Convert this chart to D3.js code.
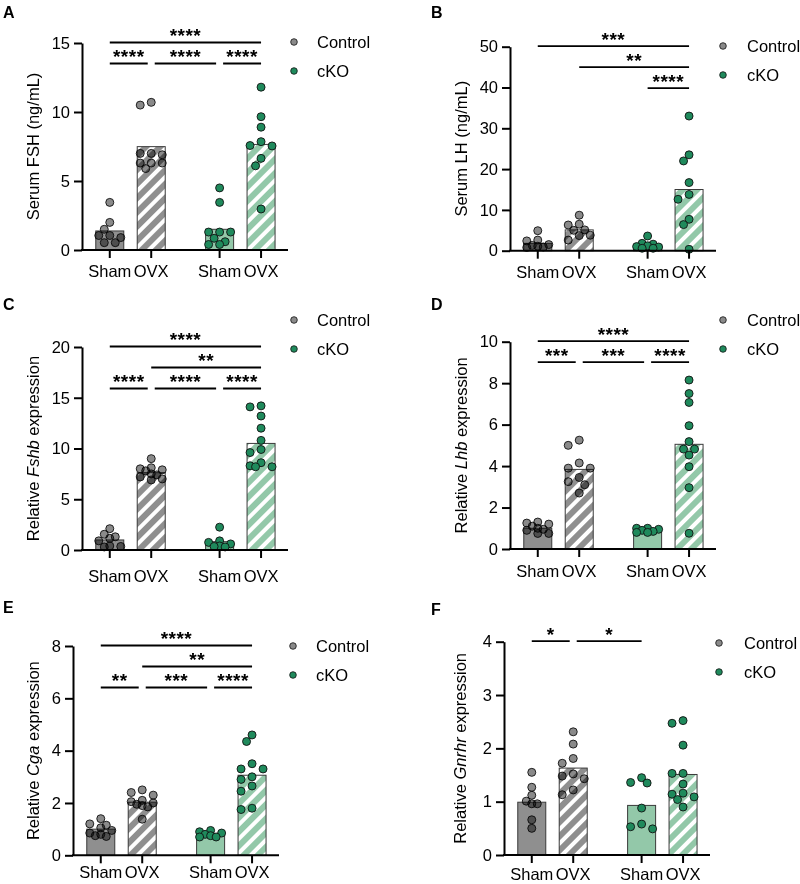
<!DOCTYPE html>
<html><head><meta charset="utf-8">
<script src="https://cdn.jsdelivr.net/npm/d3@7"></script>
<style>
body{margin:0;background:#fff}
svg{display:block}
text{font-family:"Liberation Sans",Arial,Helvetica,sans-serif;fill:#000}
</style>
</head><body>
<svg id="chart" width="800" height="884"></svg>
<script>
// ---------- DATA ----------
const groupLabels = ["Sham", "OVX", "Sham", "OVX"];
const groupGenotype = ["Control", "Control", "cKO", "cKO"];
const groupTreatment = ["Sham", "OVX", "Sham", "OVX"];
const seriesNames = ["Control", "cKO"];

// Panel A: Serum FSH (ng/mL)
const fshPoints = [
  [3.45, 2.0, 1.5, 1.05, 0.9, 1.05, 0.53, 0.53],
  [10.7, 10.5, 7.0, 7.0, 6.9, 6.3, 6.3, 6.3, 5.9],
  [4.5, 3.45, 1.3, 1.3, 1.3, 0.85, 0.6, 0.4, 0.4],
  [11.8, 9.66, 8.9, 7.85, 7.57, 7.54, 6.64, 6.1, 2.97]
];
const fshMeans = [1.38, 7.49, 1.5, 7.65];
const fshTicks = [0, 5, 10, 15];
const fshSig = [[0, 3, "****", 0], [0, 1, "****", 1], [1, 2, "****", 1], [2, 3, "****", 1]];

// Panel B: Serum LH (ng/mL)
const lhPoints = [
  [4.9, 2.6, 2.4, 1.5, 1.3, 1.1, 0.9, 0.8],
  [8.7, 6.5, 6.3, 5.1, 5.0, 3.8, 3.7, 2.6],
  [3.6, 1.8, 1.6, 1.2, 1.0, 0.9, 0.6, 0.6],
  [33.0, 23.5, 22.0, 16.7, 13.8, 12.6, 7.7, 6.4, 0.35]
];
const lhMeans = [1.8, 5.1, 1.45, 15.0];
const lhTicks = [0, 10, 20, 30, 40, 50];
const lhSig = [[0, 3, "***", 0], [1, 3, "**", 1], [2, 3, "****", 2]];

// Panel C: Relative Fshb expression
const fshbPoints = [
  [2.1, 1.55, 1.3, 1.15, 0.9, 0.4, 0.35, 0.3],
  [9.0, 8.1, 8.0, 7.9, 7.8, 7.5, 7.4, 7.2, 7.0, 6.9],
  [2.25, 0.9, 0.75, 0.6, 0.4, 0.35, 0.3],
  [14.2, 14.1, 13.2, 12.0, 10.8, 9.9, 9.6, 8.6, 8.3, 8.2, 8.2]
];
const fshbMeans = [0.99, 7.62, 0.82, 10.5];
const fshbTicks = [0, 5, 10, 15, 20];
const fshbSig = [[0, 3, "****", 0], [1, 3, "**", 1], [0, 1, "****", 2], [1, 2, "****", 2], [2, 3, "****", 2]];

// Panel D: Relative Lhb expression
const lhbPoints = [
  [1.3, 1.25, 1.2, 1.1, 1.0, 0.95, 0.9, 0.75, 0.75],
  [5.25, 5.0, 4.15, 3.9, 3.9, 3.45, 3.25, 3.1, 2.7],
  [1.0, 1.0, 0.95, 0.9, 0.85, 0.8, 0.8],
  [8.15, 7.5, 7.07, 5.95, 5.18, 4.82, 4.82, 4.53, 3.97, 2.96, 0.76]
];
const lhbMeans = [1.0, 3.84, 0.87, 5.05];
const lhbTicks = [0, 2, 4, 6, 8, 10];
const lhbSig = [[0, 3, "****", 0], [0, 1, "***", 1], [1, 2, "***", 1], [2, 3, "****", 1]];

// Panel E: Relative Cga expression
const cgaPoints = [
  [1.4, 1.2, 1.15, 1.05, 0.95, 0.85, 0.8, 0.75, 0.72],
  [2.5, 2.4, 2.3, 2.1, 2.05, 2.0, 1.95, 1.9, 1.85, 1.38],
  [0.95, 0.9, 0.85, 0.8, 0.75, 0.7, 0.7],
  [4.6, 4.35, 3.5, 3.3, 3.3, 3.0, 2.9, 2.65, 2.45, 1.8, 1.75]
];
const cgaMeans = [1.0, 2.03, 0.8, 3.06];
const cgaTicks = [0, 2, 4, 6, 8];
const cgaSig = [[0, 3, "****", 0], [1, 3, "**", 1], [0, 1, "**", 2], [1, 2, "***", 2], [2, 3, "****", 2]];

// Panel F: Relative Gnrhr expression
const gnrhrPoints = [
  [1.55, 1.27, 1.12, 1.01, 0.96, 0.96, 0.66, 0.5],
  [2.31, 2.08, 1.81, 1.72, 1.52, 1.48, 1.43, 1.22, 1.13],
  [1.45, 1.36, 1.35, 0.88, 0.58, 0.53, 0.49],
  [2.52, 2.47, 2.06, 1.53, 1.53, 1.33, 1.16, 1.14, 1.09, 1.04, 0.9]
];
const gnrhrMeans = [0.99, 1.63, 0.93, 1.51];
const gnrhrTicks = [0, 1, 2, 3, 4];
const gnrhrSig = [[0, 1, "*", 0], [1, 2, "*", 0]];

// ---------- STYLE / LAYOUT ----------
const COL = {
  grayBar: "#8f8f8f", greenBar: "#93c8a9",
  grayDot: "#8a8a8a", greenDot: "#1f8a5c",
  outline: "#3a3a3a"
};
const groupPos = [0, 1, 2.65, 3.65];

const panels = [
  {letter: "A", lx: 3, ly: 18, ax: 82, y0: 250, yTop: 43, xl: 27, title: [["Serum FSH (ng/mL)", false]], tx: 39,
   pts: fshPoints, means: fshMeans, ticks: fshTicks, sig: fshSig, leg: [294, 42, 317]},
  {letter: "B", lx: 431, ly: 18, ax: 510, y0: 250.7, yTop: 46.7, xl: 27.5, title: [["Serum LH (ng/mL)", false]], tx: 467,
   pts: lhPoints, means: lhMeans, ticks: lhTicks, sig: lhSig, leg: [723, 46, 747]},
  {letter: "C", lx: 3, ly: 310, ax: 82, y0: 550, yTop: 347, xl: 32, title: [["Relative ", false], ["Fshb", true], [" expression", false]], tx: 39,
   pts: fshbPoints, means: fshbMeans, ticks: fshbTicks, sig: fshbSig, leg: [294, 320, 317]},
  {letter: "D", lx: 431, ly: 310, ax: 510, y0: 549, yTop: 341.7, xl: 28, title: [["Relative ", false], ["Lhb", true], [" expression", false]], tx: 467,
   pts: lhbPoints, means: lhbMeans, ticks: lhbTicks, sig: lhbSig, leg: [723, 320, 747]},
  {letter: "E", lx: 3, ly: 613, ax: 73, y0: 855.3, yTop: 646, xl: 23, title: [["Relative ", false], ["Cga", true], [" expression", false]], tx: 39,
   pts: cgaPoints, means: cgaMeans, ticks: cgaTicks, sig: cgaSig, leg: [293, 646, 316]},
  {letter: "F", lx: 431, ly: 615, ax: 504, y0: 855, yTop: 641.7, xl: 25, title: [["Relative ", false], ["Gnrhr", true], [" expression", false]], tx: 466,
   pts: gnrhrPoints, means: gnrhrMeans, ticks: gnrhrTicks, sig: gnrhrSig, leg: [719, 643, 744]}
];

const svg = d3.select("#chart");
const defs = svg.append("defs");
function hatch(id, bg) {
  const p = defs.append("pattern").attr("id", id).attr("patternUnits", "userSpaceOnUse")
    .attr("width", 10).attr("height", 10).attr("patternTransform", "rotate(45)");
  p.append("rect").attr("width", 10).attr("height", 10).attr("fill", bg);
  p.append("rect").attr("x", 0).attr("width", 4).attr("height", 10).attr("fill", "#fff");
}
hatch("hatchGray", COL.grayBar);
hatch("hatchGreen", COL.greenBar);

// simple bounded beeswarm (dots may overlap, like the original)
function swarm(vals, y, cx) {
  const placed = [];
  const sorted = vals.slice().sort((a, b) => b - a);
  const cands = [0, -5.5, 5.5, -11, 11];
  sorted.forEach(v => {
    const py = y(v);
    let best = null, bestD = -1;
    for (const off of cands) {
      const px = cx + off;
      const md = placed.length ? d3.min(placed, p => Math.hypot(p.x - px, p.y - py)) : Infinity;
      if (md >= 7.6) { best = px; break; }
      if (md > bestD + 1.5) { bestD = md; best = px; }
    }
    placed.push({x: best, y: py, v});
  });
  return placed;
}

panels.forEach(P => {
  const g = svg.append("g");
  const x = d3.scaleLinear().domain([-0.67, 4.3]).range([P.ax, P.ax + 206]);
  const y = d3.scaleLinear().domain([0, d3.max(P.ticks)]).range([P.y0, P.yTop]);
  const bw = 28;

  // bars
  P.means.forEach((m, i) => {
    const isCtrl = groupGenotype[i] === "Control";
    const fill = groupTreatment[i] === "Sham" ? (isCtrl ? COL.grayBar : COL.greenBar)
                                              : (isCtrl ? "url(#hatchGray)" : "url(#hatchGreen)");
    g.append("rect").attr("x", x(groupPos[i]) - bw / 2).attr("y", y(m))
      .attr("width", bw).attr("height", y(0) - y(m))
      .attr("fill", fill).attr("stroke", COL.outline).attr("stroke-width", 1);
  });

  // dots
  P.pts.forEach((vals, i) => {
    const isCtrl = groupGenotype[i] === "Control";
    const pts = swarm(vals, y, x(groupPos[i]));
    g.append("g").selectAll("circle").data(pts).join("circle")
      .attr("cx", d => d.x).attr("cy", d => d.y).attr("r", 4)
      .attr("fill", isCtrl ? COL.grayDot : COL.greenDot)
      .attr("stroke", "#111").attr("stroke-width", 0.9)
      .style("mix-blend-mode", isCtrl ? "multiply" : "normal");
  });

  // y axis
  const yAxis = g.append("g").attr("transform", `translate(${P.ax},0)`)
    .call(d3.axisLeft(y).tickValues(P.ticks).tickFormat(d3.format("d")).tickSize(8).tickPadding(4).tickSizeOuter(0));
  yAxis.select(".domain").attr("stroke", "#000").attr("stroke-width", 2);
  yAxis.selectAll(".tick line").attr("stroke", "#000").attr("stroke-width", 2);
  yAxis.selectAll(".tick text").attr("font-size", 16.5).attr("font-family", "'Liberation Sans',Arial,sans-serif").attr("fill", "#000");

  // x axis
  const xAxisG = g.append("g").attr("transform", `translate(0,${P.y0})`);
  xAxisG.append("line").attr("x1", P.ax - 1).attr("x2", P.ax + 206).attr("y1", 0).attr("y2", 0)
    .attr("stroke", "#000").attr("stroke-width", 2);
  groupLabels.forEach((lab, i) => {
    const cx = x(groupPos[i]);
    xAxisG.append("line").attr("x1", cx).attr("x2", cx).attr("y1", 0).attr("y2", 8)
      .attr("stroke", "#000").attr("stroke-width", 2);
    xAxisG.append("text").attr("x", cx).attr("y", P.xl).attr("text-anchor", "middle")
      .attr("font-size", 16.5).text(lab);
  });

  // axis title
  const t = g.append("text").attr("transform", `translate(${P.tx},${(P.y0 + P.yTop) / 2}) rotate(-90)`)
    .attr("text-anchor", "middle").attr("font-size", 16.5);
  P.title.forEach(([s, it]) => t.append("tspan").attr("font-style", it ? "italic" : "normal").text(s));

  // panel letter
  g.append("text").attr("x", P.lx).attr("y", P.ly).attr("font-size", 16).attr("font-weight", "bold").text(P.letter);

  // significance bars
  P.sig.forEach(([a, b, lab, row]) => {
    const ly = P.yTop + row * 21 - 0.5;
    let x1 = x(groupPos[a]), x2 = x(groupPos[b]);
    const sameRow = P.sig.filter(s => s[3] === row);
    if (sameRow.some(s => s[1] === a)) x1 += 3.5;
    if (sameRow.some(s => s[0] === b)) x2 -= 3.5;
    g.append("line").attr("x1", x1).attr("x2", x2).attr("y1", ly).attr("y2", ly)
      .attr("stroke", "#000").attr("stroke-width", 1.8);
    g.append("text").attr("x", (x1 + x2) / 2).attr("y", ly - 0.5).attr("text-anchor", "middle")
      .attr("font-size", 19).attr("font-weight", "bold").attr("letter-spacing", 0.5).text(lab);
  });

  // legend
  const [lx, ly, ltx] = P.leg;
  seriesNames.forEach((s, i) => {
    g.append("circle").attr("cx", lx).attr("cy", ly + i * 29).attr("r", 3.3)
      .attr("fill", i === 0 ? COL.grayDot : COL.greenDot).attr("stroke", "#111").attr("stroke-width", 0.8);
    g.append("text").attr("x", ltx).attr("y", ly + i * 29 + 6).attr("font-size", 16.5).text(s);
  });
});
</script>
</body></html>
